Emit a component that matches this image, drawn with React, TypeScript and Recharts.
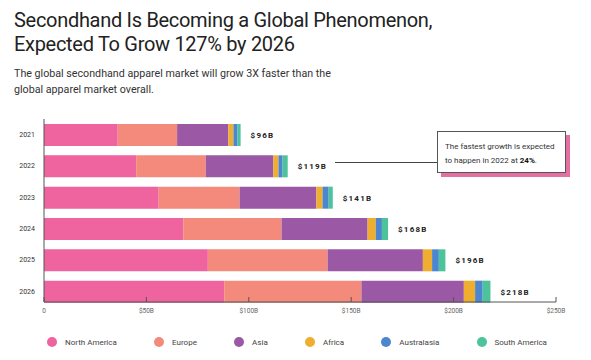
import React from 'react';
import { BarChart, Bar, XAxis, YAxis, LabelList } from 'recharts';

const years = ['2021', '2022', '2023', '2024', '2025', '2026'];
const northAmerica = [36, 45, 56, 68, 80, 88];
const europe = [29, 34, 39.5, 48, 58.5, 67];
const asia = [25, 33, 37.5, 42, 46.5, 50];
const africa = [2.5, 2.5, 3, 4, 4.5, 5.5];
const australasia = [2, 2, 3, 3, 3.3, 3.7];
const southAmerica = [1.5, 2.5, 2, 3, 3.2, 3.8];
const totalLabels = ['$96B', '$119B', '$141B', '$168B', '$196B', '$218B'];
const xTicks = [0, 50, 100, 150, 200, 250];

const seriesNames = ['North America', 'Europe', 'Asia', 'Africa', 'Australasia', 'South America'];
const seriesKeys = ['na', 'eu', 'asia', 'af', 'aus', 'sa'];
const seriesColors = ['#EF639E', '#F38A7B', '#9A58A5', '#EFAE2F', '#4B86CF', '#4DC39C'];

const data = years.map((y, i) => ({
  year: y,
  na: northAmerica[i],
  eu: europe[i],
  asia: asia[i],
  af: africa[i],
  aus: australasia[i],
  sa: southAmerica[i],
  total: totalLabels[i],
}));

const FONT = 'Roboto, "Noto Sans", sans-serif';

export default function App() {
  return (
    <div style={{ position: 'absolute', left: 0, top: 0, width: 591, height: 360, background: '#fff', fontFamily: FONT, overflow: 'hidden' }}>
      <div style={{ position: 'absolute', left: 14, top: 9, fontSize: 20, lineHeight: '23.5px', letterSpacing: -0.3, color: '#222', fontWeight: 400, whiteSpace: 'nowrap' }}>
        Secondhand Is Becoming a Global Phenomenon,
        <br />
        Expected To Grow 127% by 2026
      </div>
      <div style={{ position: 'absolute', left: 14, top: 66, fontSize: 10.7, lineHeight: '15.5px', color: '#333', whiteSpace: 'nowrap' }}>
        The global secondhand apparel market will grow 3X faster than the
        <br />
        global apparel market overall.
      </div>

      <div style={{ position: 'absolute', left: 0, top: 0 }}>
        <BarChart
          width={591}
          height={360}
          data={data}
          layout="vertical"
          margin={{ top: 119, right: 35, bottom: 28, left: 0 }}
          barSize={22}
        >
          <XAxis
            type="number"
            domain={[0, 250]}
            ticks={xTicks}
            height={30}
            tickFormatter={(v: number) => (v === 0 ? '0' : `$${v}B`)}
            tickSize={-5}
            tickMargin={11}
            axisLine={{ stroke: '#555' }}
            tickLine={{ stroke: '#555' }}
            tick={{ fontSize: 6.5, fill: '#666', fontFamily: FONT }}
          />
          <YAxis
            type="category"
            dataKey="year"
            width={44}
            tickLine={false}
            tickSize={0}
            tickMargin={9}
            padding={{ top: 0, bottom: -5 }}
            axisLine={{ stroke: '#555' }}
            tick={{ fontSize: 7, fill: '#333', fontFamily: FONT }}
          />
          {seriesKeys.map((k, i) => (
            <Bar key={k} dataKey={k} name={seriesNames[i]} stackId="a" fill={seriesColors[i]} isAnimationActive={false}>
              {i === seriesKeys.length - 1 ? (
                <LabelList
                  dataKey="total"
                  position="right"
                  offset={10}
                  style={{ fontSize: 8, fontWeight: 700, letterSpacing: 1.2, fill: '#222', fontFamily: FONT }}
                />
              ) : null}
            </Bar>
          ))}
        </BarChart>
      </div>

      <div style={{ position: 'absolute', left: 335, top: 161.5, width: 102, height: 1, background: '#444' }} />
      <div
        style={{
          position: 'absolute',
          left: 437,
          top: 131,
          width: 127,
          height: 40,
          border: '1px solid #555',
          background: '#fff',
          boxShadow: '4px 4px 0 #E46FA1',
          boxSizing: 'content-box',
        }}
      >
        <div style={{ paddingLeft: 7, paddingTop: 8, fontSize: 8, lineHeight: '13.5px', color: '#333', whiteSpace: 'nowrap' }}>
          The fastest growth is expected
          <br />
          to happen in 2022 at <b style={{ color: '#111' }}>24%</b>.
        </div>
      </div>

      <div style={{ position: 'absolute', left: 47, top: 336, width: 500, height: 12, display: 'flex', justifyContent: 'space-between', alignItems: 'center' }}>
        {seriesNames.map((n, i) => (
          <div key={n} style={{ display: 'flex', alignItems: 'center' }}>
            <span style={{ display: 'inline-block', width: 10, height: 10, borderRadius: 5, background: seriesColors[i], marginRight: 8 }} />
            <span style={{ fontSize: 8, color: '#444' }}>{n}</span>
          </div>
        ))}
      </div>
    </div>
  );
}
